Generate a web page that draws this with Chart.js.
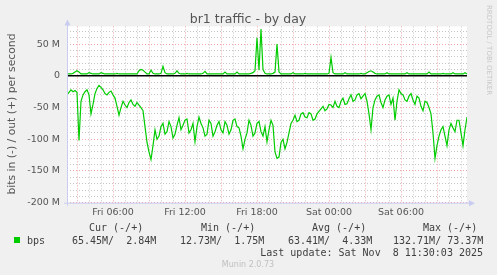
<!DOCTYPE html>
<html>
<head>
<meta charset="utf-8">
<script src="https://cdn.jsdelivr.net/npm/chart.js@4/dist/chart.umd.min.js"></script>
<style>
  html, body { margin: 0; padding: 0; background: #f0f0f0; }
  #wrap { width: 497px; height: 275px; }
</style>
</head>
<body>
<div id="wrap"><canvas id="myChart" width="497" height="275"></canvas></div>
<script>
// samples every 10 minutes, Fri 02:10 -> Sat 11:30
var startHour = 2 + 10 / 60;
var stepHour = 1 / 6;

// bits out (+), Mbit/s
var outMbps = [
  4, 3, 3, 4, 6, 8, 6, 3, 3, 3,
  3, 5, 4, 3, 3, 3, 3, 5, 4, 3,
  3, 3, 3, 3, 3, 4, 3, 3, 3, 3,
  3, 3, 3, 3, 3, 3, 8, 10, 9, 6,
  3, 3, 9, 4, 3, 3, 3, 4, 15, 5,
  3, 3, 3, 3, 4, 8, 4, 3, 3, 3,
  4, 3, 3, 3, 3, 3, 3, 3, 4, 7,
  3, 3, 3, 3, 3, 3, 3, 3, 3, 6,
  3, 3, 3, 3, 3, 6, 3, 3, 3, 3,
  3, 3, 4, 5, 8, 60, 9, 74, 10, 4,
  3, 3, 3, 4, 6, 50, 6, 3, 3, 3,
  3, 3, 3, 5, 3, 3, 3, 3, 3, 4,
  3, 3, 3, 3, 3, 3, 3, 3, 3, 3,
  3, 4, 29, 5, 3, 3, 3, 3, 3, 5,
  3, 3, 3, 3, 3, 3, 3, 4, 3, 3,
  5, 7, 8, 6, 4, 3, 3, 3, 3, 3,
  5, 3, 3, 3, 3, 3, 3, 3, 3, 3,
  5, 3, 3, 3, 3, 3, 3, 3, 3, 3,
  3, 6, 3, 3, 3, 3, 3, 3, 4, 3,
  3, 3, 3, 5, 3, 3, 3, 3, 3, 5,
  3
];

// bits in (-), Mbit/s
var inMbps = [
  30, 26, 22, 25, 23, 26, 102, 40, 30, 25,
  22, 30, 60, 45, 28, 20, 15, 18, 22, 28,
  30, 26, 24, 30, 35, 48, 62, 50, 40, 46,
  50, 42, 38, 45, 48, 42, 46, 50, 55, 80,
  105, 120, 132, 110, 85, 100, 95, 80, 75, 92,
  88, 72, 80, 98, 92, 78, 66, 85, 78, 70,
  68, 90, 85, 75, 104, 80, 65, 75, 82, 95,
  92, 70, 75, 95, 88, 78, 72, 85, 90, 72,
  78, 92, 85, 70, 68, 80, 82, 95, 115, 100,
  90, 70, 78, 95, 90, 75, 72, 88, 95, 80,
  104, 85, 70, 78, 120, 130, 128, 105, 100, 115,
  105, 90, 75, 70, 62, 72, 70, 60, 58, 65,
  66, 58, 60, 70, 68, 60, 56, 52, 48, 55,
  52, 45, 46, 50, 40, 48, 50, 40, 35, 45,
  44, 36, 30, 40, 38, 30, 28, 36, 32, 28,
  40, 60, 85, 50, 38, 32, 30, 42, 50, 38,
  32, 30, 45, 35, 70, 40, 22, 28, 30, 38,
  40, 32, 28, 38, 45, 32, 35, 48, 55, 40,
  42, 50, 60, 90, 130, 110, 95, 85, 80, 95,
  110, 85, 75, 82, 88, 70, 70, 90, 110, 85,
  65
];

var legendHead = ["Cur (-/+)", "Min (-/+)", "Avg (-/+)", "Max (-/+)"];
var legendVals = ["65.45M/  2.84M", "12.73M/  1.75M", "63.41M/  4.33M", "132.71M/ 73.37M"];
var lastUpdate = "Last update: Sat Nov  8 11:30:03 2025";

var green = "#00cc00";
var gridGray = "rgba(150,150,150,0.55)";
var gridRed = "rgba(230,90,90,0.55)";
var axisBlue = "#c8ccf0";

var outPts = outMbps.map(function (v, i) { return { x: startHour + i * stepHour, y: v }; });
var inPts = inMbps.map(function (v, i) { return { x: startHour + i * stepHour, y: -v }; });

var muninPlugin = {
  id: "munin",
  beforeDraw: function (chart) {
    var c = chart.ctx, a = chart.chartArea;
    c.save();
    c.fillStyle = "#f0f0f0";
    c.fillRect(0, 0, chart.width, chart.height);
    c.fillStyle = "#ffffff";
    c.fillRect(a.left, a.top, a.right - a.left, a.bottom - a.top);
    c.restore();
  },
  afterDatasetsDraw: function (chart) {
    var c = chart.ctx, a = chart.chartArea;
    var y0 = chart.scales.y.getPixelForValue(0);
    c.save();
    c.strokeStyle = "#000";
    c.lineWidth = 1.5;
    c.beginPath();
    c.moveTo(a.left, y0);
    c.lineTo(a.right, y0);
    c.stroke();
    c.restore();
  },
  afterDraw: function (chart) {
    var c = chart.ctx, a = chart.chartArea;
    c.save();
    // axes + arrows
    c.strokeStyle = axisBlue;
    c.fillStyle = axisBlue;
    c.lineWidth = 1;
    c.beginPath();
    c.moveTo(a.left + 0.5, a.bottom + 3);
    c.lineTo(a.left + 0.5, a.top - 2);
    c.moveTo(a.left - 3, a.bottom + 0.5);
    c.lineTo(a.right + 3, a.bottom + 0.5);
    c.stroke();
    c.beginPath();
    c.moveTo(a.left + 0.5, a.top - 7);
    c.lineTo(a.left - 2.5, a.top - 1);
    c.lineTo(a.left + 3.5, a.top - 1);
    c.closePath();
    c.fill();
    c.beginPath();
    c.moveTo(a.right + 8, a.bottom + 0.5);
    c.lineTo(a.right + 2, a.bottom - 2.5);
    c.lineTo(a.right + 2, a.bottom + 3.5);
    c.closePath();
    c.fill();

    // title
    c.fillStyle = "#555";
    c.font = "12.5px 'DejaVu Sans'";
    c.textAlign = "center";
    c.textBaseline = "alphabetic";
    c.fillText("br1 traffic - by day", 248, 22.5);

    // y axis title
    c.save();
    c.translate(15, 114);
    c.rotate(-Math.PI / 2);
    c.font = "10.8px 'DejaVu Sans'";
    c.fillStyle = "#555";
    c.textAlign = "center";
    c.fillText("bits in (-) / out (+) per second", 0, 0);
    c.restore();

    // rrdtool watermark
    c.save();
    c.translate(487, 5);
    c.rotate(Math.PI / 2);
    c.font = "7px 'DejaVu Sans'";
    c.fillStyle = "#c8c8c8";
    c.textAlign = "left";
    c.fillText("RRDTOOL / TOBI OETIKER", 0, 0);
    c.restore();

    // legend
    c.font = "10px 'DejaVu Sans Mono'";
    c.fillStyle = "#404040";
    c.textAlign = "left";
    var headX = [89, 201, 312, 423];
    var valX = [72, 180, 288, 393];
    legendHead.forEach(function (t, i) { c.fillText(t, headX[i], 231); });
    c.fillStyle = green;
    c.fillRect(14, 237, 6, 6);
    c.fillStyle = "#404040";
    c.fillText("bps", 27, 244);
    legendVals.forEach(function (t, i) { c.fillText(t, valX[i], 244); });
    c.textAlign = "right";
    c.fillText(lastUpdate, 483, 255.5);

    c.textAlign = "center";
    c.font = "8px 'DejaVu Sans'";
    c.fillStyle = "#c0c0c0";
    c.fillText("Munin 2.0.73", 248, 267);
    c.restore();
  }
};

window.onload = function () {
  var ctx = document.getElementById("myChart").getContext("2d");
  new Chart(ctx, {
    type: "line",
    data: {
      datasets: [
        { label: "out", data: outPts, borderColor: green, borderWidth: 1.2, pointRadius: 0, tension: 0 },
        { label: "in", data: inPts, borderColor: green, borderWidth: 1.2, pointRadius: 0, tension: 0 }
      ]
    },
    options: {
      responsive: false,
      animation: false,
      layout: { padding: { left: 0, right: 30, top: 26.4, bottom: 52.3 } },
      plugins: { legend: { display: false }, tooltip: { enabled: false } },
      scales: {
        x: {
          type: "linear",
          min: startHour,
          max: startHour + (outMbps.length - 1) * stepHour,
          afterFit: function (s) { s.height = 20; },
          afterBuildTicks: function (s) {
            var t = [];
            for (var h = 3; h <= 35; h++) t.push({ value: h });
            s.ticks = t;
          },
          border: { display: false, dash: [1, 2] },
          grid: {
            drawTicks: false,
            lineWidth: 1,
            color: function (c) { return c.tick && c.tick.value % 3 === 0 ? gridRed : gridGray; }
          },
          ticks: {
            autoSkip: false,
            maxRotation: 0,
            padding: 4,
            color: "#555",
            font: { family: "DejaVu Sans", size: 9.5 },
            callback: function (v) {
              if (v % 6 !== 0) return "";
              var hh = v % 24;
              return (v < 24 ? "Fri " : "Sat ") + (hh < 10 ? "0" : "") + hh + ":00";
            }
          }
        },
        y: {
          min: -200,
          max: 78,
          afterFit: function (s) { s.width = 67; },
          afterBuildTicks: function (s) {
            var t = [];
            for (var v = -200; v <= 70; v += 10) t.push({ value: v });
            s.ticks = t;
          },
          border: { display: false, dash: [1, 2] },
          grid: {
            drawTicks: false,
            lineWidth: 1,
            color: function (c) { return c.tick && c.tick.value % 50 === 0 ? gridRed : gridGray; }
          },
          ticks: {
            autoSkip: false,
            padding: 7,
            color: "#555",
            font: { family: "DejaVu Sans", size: 9.5 },
            callback: function (v) {
              if (v % 50 !== 0) return "";
              return v === 0 ? "0" : v + " M";
            }
          }
        }
      }
    },
    plugins: [muninPlugin]
  });
};
</script>
</body>
</html>
